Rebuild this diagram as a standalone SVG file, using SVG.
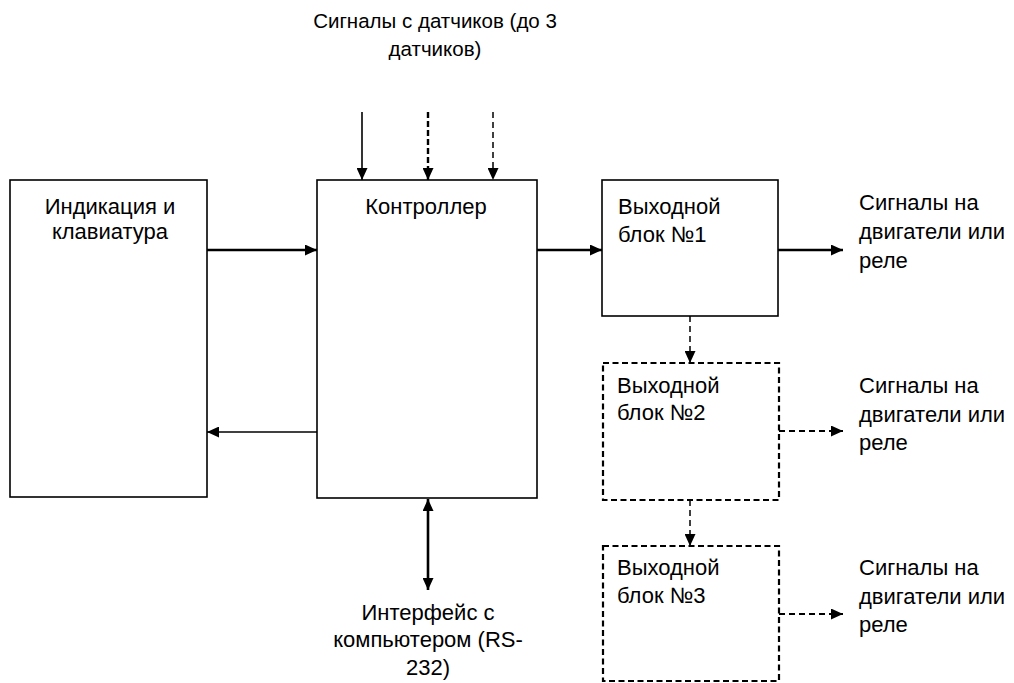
<svg xmlns="http://www.w3.org/2000/svg" width="1014" height="683" viewBox="0 0 1014 683">
<style>
text{font-family:"Liberation Sans",Arial,sans-serif;font-size:22px;fill:#000}
.top{font-size:20.5px}
.box{fill:#fff;stroke:#000;stroke-width:1.6}
.dbox{fill:#fff;stroke:#000;stroke-width:2.2;stroke-dasharray:6,3.5}
.c{fill:none;stroke:#000;stroke-width:2.6}
.cs{fill:none;stroke:#000;stroke-width:1.6}
.cd{fill:none;stroke:#000;stroke-width:2;stroke-dasharray:6,4}
.cdt{fill:none;stroke:#000;stroke-width:2.4;stroke-dasharray:6,3}
.cdn{fill:none;stroke:#000;stroke-width:1.5;stroke-dasharray:6,4}
.m{text-anchor:middle}
</style>
<defs>
<marker id="ah" markerUnits="userSpaceOnUse" markerWidth="12" markerHeight="11" refX="12" refY="5.5" orient="auto">
<path d="M0,0 L12,5.5 L0,11 Z" fill="#000"/>
</marker>
<marker id="ahs" markerUnits="userSpaceOnUse" markerWidth="12" markerHeight="11" refX="0" refY="5.5" orient="auto">
<path d="M12,0 L0,5.5 L12,11 Z" fill="#000"/>
</marker>
</defs>
<g id="top-label">
<text class="m top" x="435" y="28">Сигналы с датчиков (до 3</text>
<text class="m top" x="435" y="56">датчиков)</text>
</g>
<g id="node-indication">
<rect class="box" x="10" y="180" width="197" height="317"/>
<text class="m" x="110" y="214">Индикация и</text>
<text class="m" x="110" y="239">клавиатура</text>
</g>
<g id="node-controller">
<rect class="box" x="317" y="180" width="220" height="318"/>
<text class="m" x="426" y="214">Контроллер</text>
</g>
<g id="node-out1">
<rect class="box" x="602" y="180" width="176" height="136"/>
<text x="618" y="214">Выходной</text>
<text x="618" y="242">блок №1</text>
</g>
<g id="node-out2">
<rect class="dbox" x="603" y="363" width="176" height="137"/>
<text x="617" y="393">Выходной</text>
<text x="617" y="420">блок №2</text>
</g>
<g id="node-out3">
<rect class="dbox" x="603" y="546" width="176" height="135"/>
<text x="617" y="575">Выходной</text>
<text x="617" y="603">блок №3</text>
</g>
<g id="label-out1">
<text x="859" y="210">Сигналы на</text>
<text x="859" y="239">двигатели или</text>
<text x="859" y="268">реле</text>
</g>
<g id="label-out2">
<text x="859" y="393">Сигналы на</text>
<text x="859" y="422">двигатели или</text>
<text x="859" y="450">реле</text>
</g>
<g id="label-out3">
<text x="859" y="575">Сигналы на</text>
<text x="859" y="604">двигатели или</text>
<text x="859" y="632">реле</text>
</g>
<g id="label-interface">
<text class="m" x="428" y="620">Интерфейс с</text>
<text class="m" x="428" y="647">компьютером (RS-</text>
<text class="m" x="428" y="675">232)</text>
</g>
<g id="connectors">
<line class="c" x1="207" y1="250" x2="317" y2="250" marker-end="url(#ah)"/>
<line class="cs" x1="317" y1="432" x2="207" y2="432" marker-end="url(#ah)"/>
<line class="c" x1="537" y1="250" x2="602" y2="250" marker-end="url(#ah)"/>
<line class="c" x1="778" y1="250" x2="843" y2="250" marker-end="url(#ah)"/>
<line class="cd" x1="779" y1="431" x2="843" y2="431" marker-end="url(#ah)"/>
<line class="cd" x1="779" y1="614" x2="843" y2="614" marker-end="url(#ah)"/>
<line class="cdn" x1="690" y1="316" x2="690" y2="363" marker-end="url(#ah)"/>
<line class="cdn" x1="690" y1="500" x2="690" y2="546" marker-end="url(#ah)"/>
<line class="cs" x1="362" y1="112" x2="362" y2="180" marker-end="url(#ah)"/>
<line class="cdt" x1="428" y1="112" x2="428" y2="180" marker-end="url(#ah)"/>
<line class="cdn" x1="493" y1="112" x2="493" y2="180" marker-end="url(#ah)"/>
<line class="c" x1="428" y1="499" x2="428" y2="590" marker-start="url(#ahs)" marker-end="url(#ah)"/>
</g>
</svg>
